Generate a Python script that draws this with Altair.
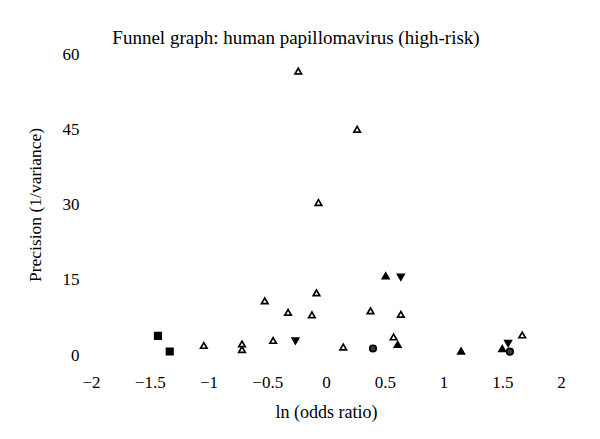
import altair as alt
import pandas as pd

# ln(odds ratio)
x_vals = [-0.236, 0.265, -0.064, 0.508, 0.637, -0.521, -0.081, -0.323, -0.12, 0.379,
          0.637, -1.43, -1.33, -1.04, -0.715, -0.715, -0.45, -0.26, 0.147, 0.40,
          0.575, 0.61, 1.15, 1.50, 1.55, 1.565, 1.67]
# precision (1/variance)
y_vals = [56.6, 45.0, 30.4, 15.8, 15.5, 10.8, 12.4, 8.5, 8.0, 8.8,
          8.1, 3.8, 0.7, 1.9, 2.2, 1.1, 2.9, 2.8, 1.6, 1.3,
          3.6, 2.1, 0.8, 1.3, 2.3, 0.66, 4.0]
# study group / marker kind
kinds = ["open", "open", "open", "up", "down", "open", "open", "open", "open", "open",
         "open", "square", "square", "open", "open", "open", "open", "down", "open", "circle",
         "open", "up", "up", "up", "down", "circle", "open"]

kind_domain = ["open", "up", "down", "square", "circle"]
shape_range = ["triangle-up", "triangle-up", "triangle-down", "square", "circle"]
fill_range = ["white", "black", "black", "black", "#3a3a3a"]

df = pd.DataFrame({"x": x_vals, "y": y_vals, "kind": kinds})

FONT = "Liberation Serif"

chart = alt.Chart(df).mark_point(
    filled=True, stroke="black", strokeWidth=1.7, size=42, opacity=1
).encode(
    x=alt.X("x:Q", scale=alt.Scale(domain=[-2, 2], nice=False, zero=False),
            axis=alt.Axis(title="ln (odds ratio)", values=[-2, -1.5, -1, -0.5, 0, 0.5, 1, 1.5, 2],
                          format="~g",
                          domain=False, ticks=False, grid=False, labelPadding=19,
                          labelFontSize=17, titleFontSize=18, titlePadding=13,
                          labelFont=FONT, titleFont=FONT, titleFontWeight="normal",
                          labelColor="black", titleColor="black", labelFlush=False)),
    y=alt.Y("y:Q", scale=alt.Scale(domain=[0, 60], nice=False),
            axis=alt.Axis(title="Precision (1/variance)", values=[0, 15, 30, 45, 60],
                          domain=False, ticks=False, grid=False, labelPadding=12,
                          labelFontSize=17, titleFontSize=17.5, titlePadding=18,
                          labelFont=FONT, titleFont=FONT, titleFontWeight="normal",
                          labelColor="black", titleColor="black", labelFlush=False)),
    shape=alt.Shape("kind:N", scale=alt.Scale(domain=kind_domain, range=shape_range), legend=None),
    fill=alt.Fill("kind:N", scale=alt.Scale(domain=kind_domain, range=fill_range), legend=None),
).properties(
    width=470, height=301,
    title=alt.TitleParams("Funnel graph: human papillomavirus (high-risk)", font=FONT,
                          fontSize=19, fontWeight="normal", color="black",
                          anchor="middle", dx=-30, offset=-3),
    autosize=alt.AutoSizeParams(type="none"),
    padding={"left": 83, "top": 46, "right": 30, "bottom": 70},
).configure_view(stroke=None)

chart.save("out.html", embed_options={"renderer": "svg", "actions": False})
